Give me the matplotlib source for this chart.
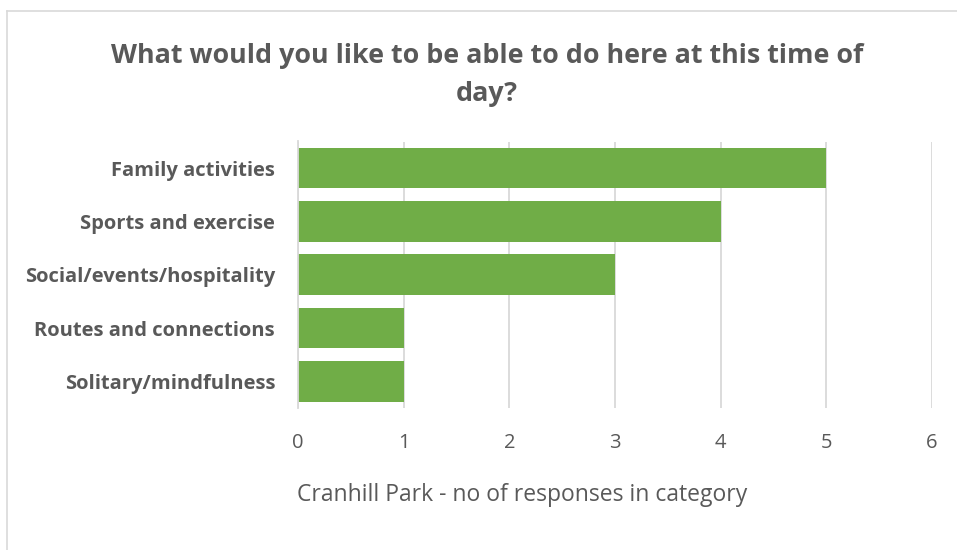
import matplotlib
matplotlib.use("Agg")
import matplotlib.pyplot as plt
from matplotlib.lines import Line2D

plt.rcParams['font.family'] = ['Open Sans', 'DejaVu Sans']

categories = [
    "Family activities",
    "Sports and exercise",
    "Social/events/hospitality",
    "Routes and connections",
    "Solitary/mindfulness",
]
responses = [5, 4, 3, 1, 1]
x_ticks = [0, 1, 2, 3, 4, 5, 6]

title = "What would you like to be able to do here at this time of\nday?"
x_label = "Cranhill Park - no of responses in category"

TEXT = "#595959"
GRID = "#D9D9D9"
BAR = "#70AD47"

W, H = 957, 550
fig = plt.figure(figsize=(W / 100, H / 100), dpi=100)
fig.patch.set_facecolor("white")

ax = fig.add_axes([298 / W, 1 - 408 / H, (932 - 298) / W, (408 - 141.5) / H])

ypos = list(range(len(categories)))
ax.barh(ypos, responses, height=0.76, color=BAR, zorder=3)
ax.set_ylim(len(categories) - 0.5, -0.5)
ax.set_xlim(x_ticks[0], x_ticks[-1])
ax.set_xticks(x_ticks)
ax.set_xticklabels([str(t) for t in x_ticks], fontsize=14.5, color=TEXT)
ax.set_yticks(ypos)
ax.set_yticklabels(categories, fontsize=14.5, fontweight="bold", color=TEXT)
ax.tick_params(axis="both", length=0)
ax.tick_params(axis="x", pad=18)
ax.tick_params(axis="y", pad=16.5)

ax.grid(axis="x", color=GRID, linewidth=1.3, zorder=0)
for side in ("top", "right", "bottom"):
    ax.spines[side].set_visible(False)
ax.spines["left"].set_color(GRID)
ax.spines["left"].set_linewidth(1.3)
ax.spines["left"].set_zorder(4)

fig.text(522 / W, 1 - 495 / H, x_label, ha="center", va="center",
         fontsize=16.5, color=TEXT)

fig.text(487 / W, 1 - 75 / H, title, ha="center", va="center",
         fontsize=19.4, fontweight="bold", color=TEXT, linespacing=1.62)

# chart frame edges
fig.add_artist(Line2D([7 / W, 1], [1 - 11 / H, 1 - 11 / H], color=GRID, linewidth=1.2))
fig.add_artist(Line2D([7 / W, 7 / W], [0, 1 - 11 / H], color=GRID, linewidth=1.2))

fig.savefig("out.png", dpi=100)
